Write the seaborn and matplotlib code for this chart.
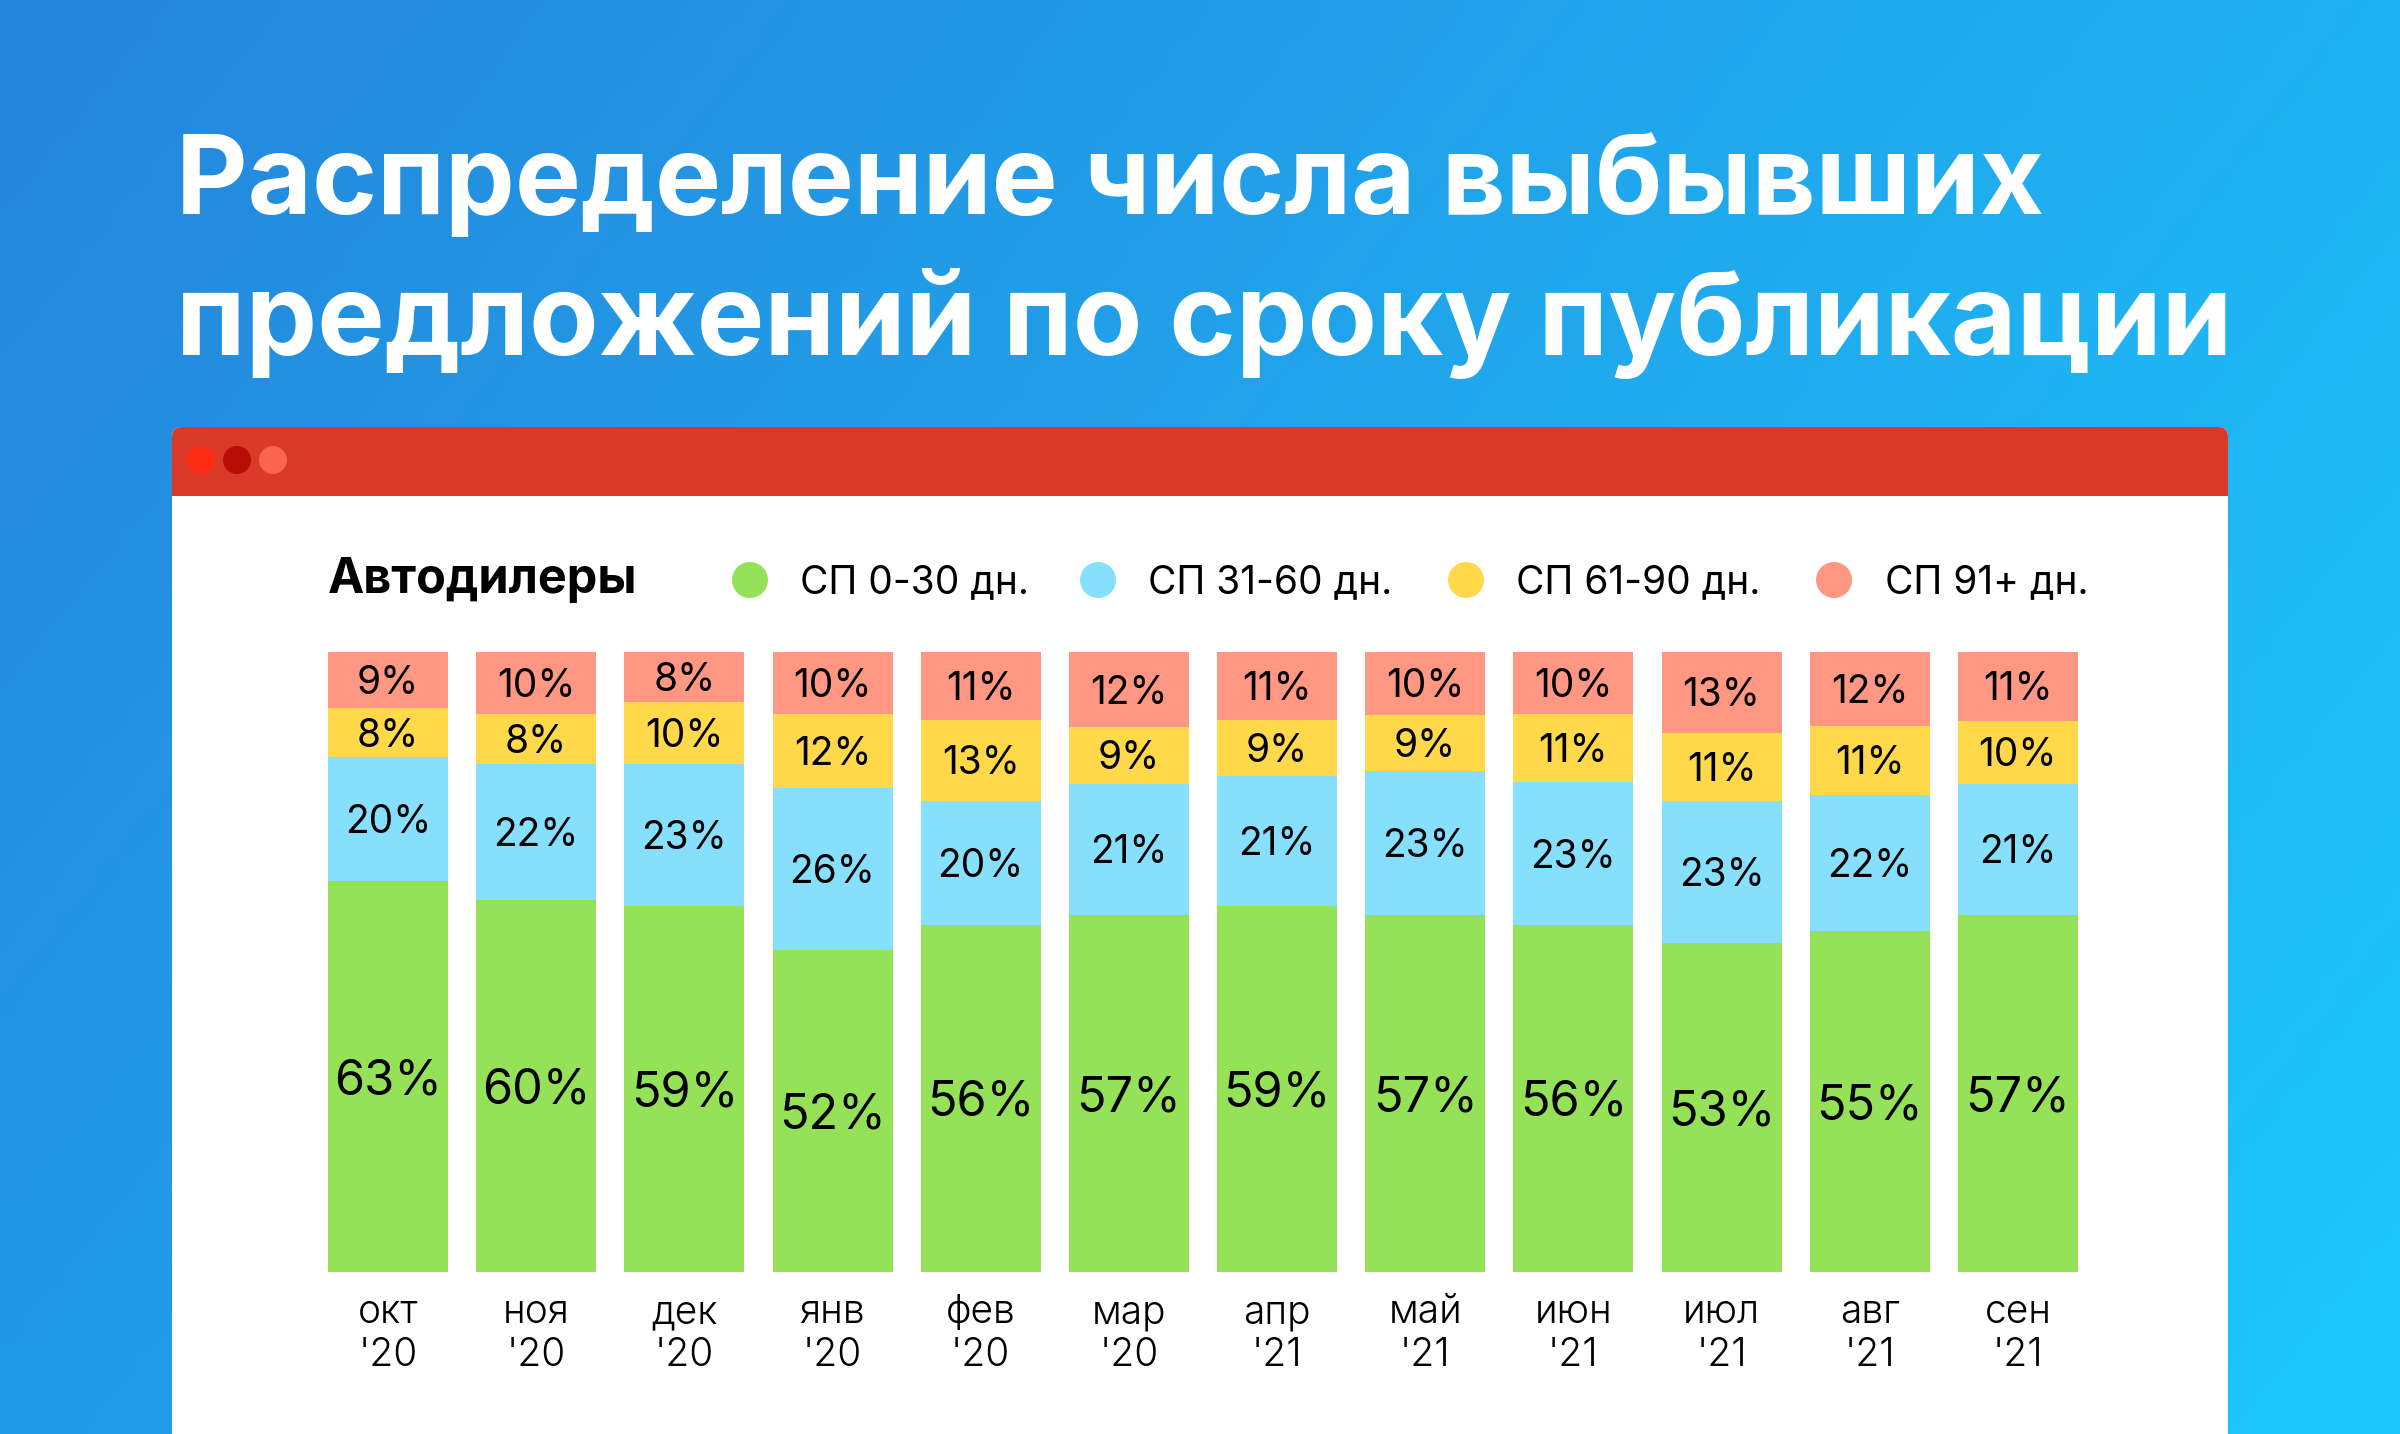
import numpy as np
import pandas as pd
import matplotlib.pyplot as plt
import seaborn as sns
from matplotlib.patches import FancyBboxPatch, Circle, Rectangle
from matplotlib.colors import LinearSegmentedColormap

# данные с картинки
months = ["окт\n'20", "ноя\n'20", "дек\n'20", "янв\n'20", "фев\n'20", "мар\n'20",
          "апр\n'21", "май\n'21", "июн\n'21", "июл\n'21", "авг\n'21", "сен\n'21"]
sp_0_30 = [63, 60, 59, 52, 56, 57, 59, 57, 56, 53, 55, 57]
sp_31_60 = [20, 22, 23, 26, 20, 21, 21, 23, 23, 23, 22, 21]
sp_61_90 = [8, 8, 10, 12, 13, 9, 9, 9, 11, 11, 11, 10]
sp_91 = [9, 10, 8, 10, 11, 12, 11, 10, 10, 13, 12, 11]
layer_names = ["СП 0-30 дн.", "СП 31-60 дн.", "СП 61-90 дн.", "СП 91+ дн."]
layer_colors = ["#95e158", "#86e0fd", "#ffd94a", "#ff9783"]

W, H = 2400, 1434

sns.set_theme(style="white")
plt.rcParams["font.family"] = ["Inter", "DejaVu Sans"]

fig = plt.figure(figsize=(W / 100, H / 100), dpi=100)

# фон + окно
bg = fig.add_axes([0, 0, 1, 1], zorder=0)
bg.set_xlim(0, W)
bg.set_ylim(H, 0)
bg.axis("off")
xx, yy = np.meshgrid(np.linspace(0, 1, 240), np.linspace(0, 1, 144))
grad = 0.68 * xx + 0.32 * yy
cmap = LinearSegmentedColormap.from_list("bg", ["#2585db", "#1cc8fd"])
bg.imshow(grad, cmap=cmap, extent=(0, W, H, 0), aspect="auto", zorder=0)

bg.add_patch(FancyBboxPatch((172, 427), 2056, 1100, boxstyle="round,pad=0,rounding_size=10",
                            fc="white", ec="none", zorder=1))
bg.add_patch(FancyBboxPatch((172, 427), 2056, 69, boxstyle="round,pad=0,rounding_size=10",
                            fc="#da3828", ec="none", zorder=2))
bg.add_patch(Rectangle((172, 470), 2056, 26, fc="#da3828", ec="none", zorder=2))
for cx, c in zip([201, 237, 273], ["#ff2a12", "#b80c06", "#fb6550"]):
    bg.add_patch(Circle((cx, 460), 14, fc=c, ec="none", zorder=3))

bg.text(176, 214, "Распределение числа выбывших", color="white", fontsize=79.8,
        fontweight="bold", va="baseline", ha="left", zorder=3)
bg.text(176, 355, "предложений по сроку публикации", color="white", fontsize=81.7,
        fontweight="bold", va="baseline", ha="left", zorder=3)

# легенда
bg.text(328, 593, "Автодилеры", fontsize=35, fontweight="bold", color="black",
        va="baseline", ha="left", zorder=3)
for dx, tx, name, c in zip([750, 1098, 1466, 1834], [800, 1148, 1516, 1885],
                           layer_names, layer_colors):
    bg.add_patch(Circle((dx, 580), 18, fc=c, ec="none", zorder=3))
    bg.text(tx, 593, name, fontsize=28, color="black", va="baseline", ha="left", zorder=3)

# столбики
vals = np.array([sp_0_30, sp_31_60, sp_61_90, sp_91], dtype=float)
share = vals / vals.sum(axis=0) * 100
tops = np.cumsum(share, axis=0)
bottoms = tops - share

rows = []
for k, name in enumerate(layer_names):
    for i, m in enumerate(months):
        rows.append({"month": m, "layer": name, "top": tops[k, i]})
df = pd.DataFrame(rows)

ax = fig.add_axes([313.9 / W, (H - 1272) / H, (2092 - 313.9) / W, 620 / H], zorder=2)
ax.patch.set_alpha(0)
for k in range(3, -1, -1):
    sns.barplot(data=df[df["layer"] == layer_names[k]], x="month", y="top", order=months,
                color=layer_colors[k], saturation=1, width=0.81, linewidth=0, ax=ax)

for k in range(4):
    fs = 35 if k == 0 else 28
    for i in range(len(months)):
        mid = bottoms[k, i] + share[k, i] / 2
        ax.annotate(f"{int(vals[k, i])}%", xy=(i, mid), xytext=(0, -0.36 * fs),
                    textcoords="offset points", ha="center", va="baseline",
                    fontsize=fs, color="black")

ax.set_ylim(0, 100)
ax.set_xlim(-0.5, len(months) - 0.5)
ax.set_yticks([])
ax.set_xlabel("")
ax.set_ylabel("")
ax.tick_params(axis="x", length=0, pad=16)
for lab in ax.get_xticklabels():
    lab.set_fontsize(28)
    lab.set_fontweight(300)
    lab.set_linespacing(1.2)
    lab.set_color("black")
sns.despine(ax=ax, left=True, bottom=True)

fig.savefig("out.png", dpi=100)
